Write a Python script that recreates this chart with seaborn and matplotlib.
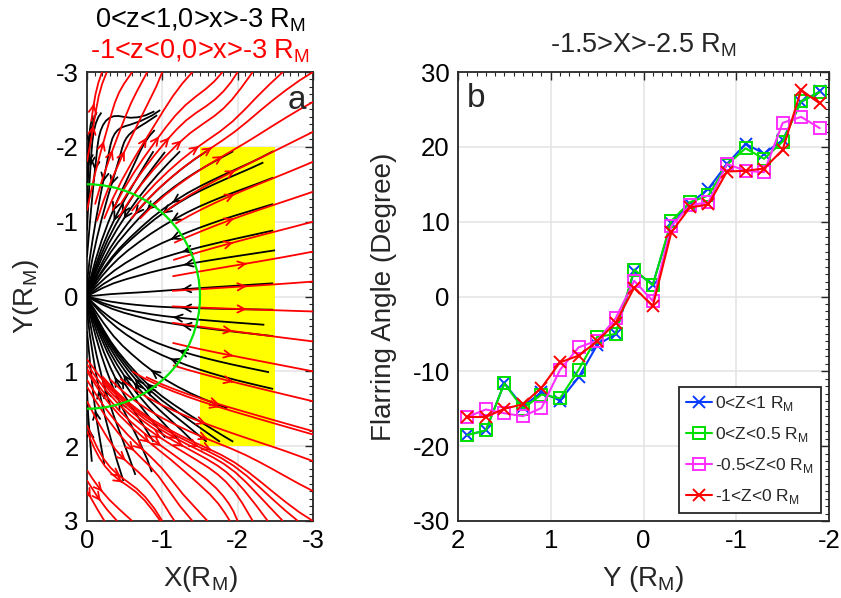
import numpy as np
import matplotlib
matplotlib.use("Agg")
import matplotlib.pyplot as plt
import seaborn as sns
from matplotlib.patches import Rectangle, Circle
from matplotlib.ticker import MultipleLocator

sns.set_theme(style="white")
plt.rcParams["font.family"] = ["Liberation Sans", "DejaVu Sans"]
plt.rcParams["mathtext.fontset"] = "custom"
plt.rcParams["mathtext.rm"] = "Liberation Sans"
plt.rcParams["axes.unicode_minus"] = False

# ---------------- panel b: flaring angle vs Y ----------------
Y_BINS = [1.9, 1.7, 1.5, 1.3, 1.1, 0.9, 0.7, 0.5, 0.3, 0.1,
          -0.1, -0.3, -0.5, -0.7, -0.9, -1.1, -1.3, -1.5, -1.7, -1.9]
ANGLE_Z_0_1 = [-18.5, -17.9, -11.6, -14.7, -12.8, -13.9, -10.8, -6.5, -5.0, 3.4,
               1.6, 9.8, 12.4, 14.4, 17.7, 20.4, 19.1, 20.9, 26.0, 27.4]
ANGLE_Z_0_05 = [-18.5, -17.9, -11.6, -15.0, -13.1, -13.6, -9.8, -5.4, -5.0, 3.6,
                1.5, 10.1, 12.6, 13.5, 17.6, 19.8, 18.4, 20.7, 26.1, 27.3]
ANGLE_Z_M05_0 = [-16.1, -15.1, -15.6, -16.0, -14.9, -9.8, -6.8, -5.9, -2.9, 2.1,
                 -0.6, 9.4, 12.2, 12.6, 17.7, 16.8, 16.6, 23.2, 24.0, 22.5]
ANGLE_Z_M1_0 = [-16.1, -16.1, -15.0, -14.4, -12.2, -8.8, -7.9, -6.0, -3.5, 1.2,
                -1.3, 8.6, 11.9, 12.3, 16.7, 16.8, 17.1, 19.6, 27.6, 25.8]

SERIES = [
    ("0<Z<1 R$_\\mathregular{M}$", ANGLE_Z_0_1, "#0a3cff", "x"),
    ("0<Z<0.5 R$_\\mathregular{M}$", ANGLE_Z_0_05, "#00e000", "s"),
    ("-0.5<Z<0 R$_\\mathregular{M}$", ANGLE_Z_M05_0, "#ff30ff", "s"),
    ("-1<Z<0 R$_\\mathregular{M}$", ANGLE_Z_M1_0, "#ff0000", "x"),
]

# ---------------- panel a: field direction grids ----------------
# Flaring angle atan(dY/dX) in degrees on a coarse X-Y grid; None = no field there.
GRID_X = [-3.0, -2.5, -2.0, -1.5, -1.0, -0.5, 0.0]
GRID_Y = [-3.0, -2.5, -2.0, -1.5, -1.0, -0.5, 0.0, 0.5, 1.0, 1.5, 2.0, 2.5, 3.0]

# 0<z<1 layer (planetward flow, converging on the origin)
BLACK_DIR = [
    [None, None, None, None, None, None, None],
    [None, None, None, None, 40, -30, 80],
    [None, 30, 28, 35, 55, 75, 88],
    [None, 20, 21, 27, 42, 65, 88],
    [None, 14, 16, 22, 33, 55, 88],
    [None, 7, 8, 10, 17, 35, 85],
    [None, 2, 2, 2, 2, 0, 0],
    [None, -6, -7, -9, -15, -35, -85],
    [None, -11, -13, -18, -30, -55, -88],
    [None, -15, -17, -25, -40, -62, -88],
    [None, None, -30, -45, -60, -70, -85],
    [None, None, None, None, -80, -70, -95],
    [None, None, None, None, None, None, None],
]

# -1<z<0 layer (tailward flow)
RED_DIR = [
    [30, 45, 60, 40, 70, 50, 80],
    [28, 35, 50, 30, 60, 70, 85],
    [25, 27, 30, 35, 50, 65, 80],
    [20, 21, 24, 30, 42, 60, 80],
    [15, 16, 19, 25, 35, 55, 80],
    [10, 10, 11, 14, 20, None, None],
    [1, 1, 1, 1, 1, None, None],
    [-6, -7, -8, -10, -13, None, None],
    [-11, -12, -13, -15, -20, -35, -60],
    [-14, -15, -16, -19, -26, -42, -65],
    [-17, -18, -20, -24, -34, -50, -70],
    [-25, -35, -50, -40, -60, -30, -60],
    [-30, -50, -70, -45, -60, -40, -70],
]

SUBSOLAR_RADIUS = 1.5
BOX_X = (-2.5, -1.5)
BOX_Y = (-2.0, 2.0)

SPINE = "#262626"
GRIDC = "#e3e3e3"
TICK_FS = 18.5
LABEL_FS = 20


def style_axes(ax):
    for s in ax.spines.values():
        s.set_color(SPINE)
        s.set_linewidth(1.3)
        s.set_visible(True)
    ax.tick_params(which="both", direction="in", top=True, right=True,
                   colors=SPINE, labelcolor="black", labelsize=TICK_FS)
    ax.tick_params(which="major", length=6, width=1.0, pad=6)
    ax.tick_params(which="minor", length=3, width=0.8)
    ax.grid(True, which="major", color=GRIDC, lw=1.1, zorder=0)
    ax.set_axisbelow(True)


fig = plt.figure(figsize=(8.41, 5.98), dpi=100)
ax1 = fig.add_axes([87 / 841, 77 / 598, 226 / 841, 449 / 598])
ax2 = fig.add_axes([458 / 841, 77 / 598, 371 / 841, 449 / 598])

# ---- panel a ----
gx, gy = np.meshgrid(np.array(GRID_X), np.array(GRID_Y))
ab = np.radians(np.array(BLACK_DIR, dtype=float))
ar = np.radians(np.array(RED_DIR, dtype=float))
ub, vb = np.cos(ab), np.sin(ab)
origin = (gx == 0) & (gy == 0)
ub[origin] = 0.0
vb[origin] = 0.0
ur, vr = -np.cos(ar), -np.sin(ar)

ax1.add_patch(Rectangle((BOX_X[0], BOX_Y[0]), BOX_X[1] - BOX_X[0], BOX_Y[1] - BOX_Y[0],
                        facecolor="#ffff00", edgecolor="none", zorder=1))
ax1.streamplot(np.array(GRID_X), np.array(GRID_Y), ub, vb, color="black",
               density=0.6, linewidth=1.3, arrowsize=1.3, arrowstyle="->",
               broken_streamlines=False, maxlength=2.0, zorder=3)
ax1.streamplot(np.array(GRID_X), np.array(GRID_Y), ur, vr, color="#ff0000",
               density=0.55, linewidth=1.3, arrowsize=1.3, arrowstyle="->",
               broken_streamlines=False, maxlength=2.0, zorder=3)
ax1.add_patch(Circle((0, 0), SUBSOLAR_RADIUS, fill=False, edgecolor="#00e600",
                     lw=1.6, zorder=4))
ax1.set_xlim(0, -3)
ax1.set_ylim(3, -3)
ax1.xaxis.set_major_locator(MultipleLocator(1))
ax1.yaxis.set_major_locator(MultipleLocator(1))
ax1.xaxis.set_minor_locator(MultipleLocator(0.1))
ax1.yaxis.set_minor_locator(MultipleLocator(0.1))
style_axes(ax1)
ax1.set_xlabel("X(R$_\\mathregular{M}$)", fontsize=LABEL_FS)
ax1.set_ylabel("Y(R$_\\mathregular{M}$)", fontsize=LABEL_FS)
ax1.xaxis.set_label_coords(0.5, -0.095)
ax1.yaxis.set_label_coords(-0.205, 0.5)
ax1.text(-2.78, -2.62, "a", fontsize=24, ha="center", va="center", zorder=5)

fig.text(200 / 841, 1 - 20 / 598, "0<z<1,0>x>-3 R$_\\mathregular{M}$", color="black",
         fontsize=19.5, ha="center", va="center")
fig.text(200 / 841, 1 - 51 / 598, "-1<z<0,0>x>-3 R$_\\mathregular{M}$", color="#ff0000",
         fontsize=19.5, ha="center", va="center")

# ---- panel b ----
for label, vals, col, mk in SERIES:
    sns.lineplot(x=Y_BINS, y=vals, ax=ax2, color=col, lw=1.5, marker=mk,
                 markersize=9, markeredgewidth=1.4, markerfacecolor="none",
                 markeredgecolor=col, label=label, sort=False, zorder=3)
ax2.set_xlim(2, -2)
ax2.set_ylim(-30, 30)
ax2.xaxis.set_major_locator(MultipleLocator(1))
ax2.yaxis.set_major_locator(MultipleLocator(10))
ax2.xaxis.set_minor_locator(MultipleLocator(0.1))
ax2.yaxis.set_minor_locator(MultipleLocator(1))
style_axes(ax2)
ax2.set_xlabel("Y (R$_\\mathregular{M}$)", fontsize=LABEL_FS)
ax2.set_ylabel("Flarring Angle (Degree)", fontsize=LABEL_FS)
ax2.xaxis.set_label_coords(0.5, -0.095)
ax2.yaxis.set_label_coords(-0.165, 0.5)
ax2.set_title("-1.5>X>-2.5 R$_\\mathregular{M}$", fontsize=19.5, pad=14)
ax2.text(1.8, 26.5, "b", fontsize=24, ha="center", va="center")
leg = ax2.legend(loc="lower right", fontsize=12.5, frameon=True, fancybox=False,
                 framealpha=1, edgecolor="#262626", handlelength=1.5,
                 handletextpad=0.2, labelspacing=0.7, borderpad=0.4,
                 borderaxespad=0.45, numpoints=1)
leg.get_frame().set_linewidth(1.3)

fig.savefig("out.png", dpi=100)
